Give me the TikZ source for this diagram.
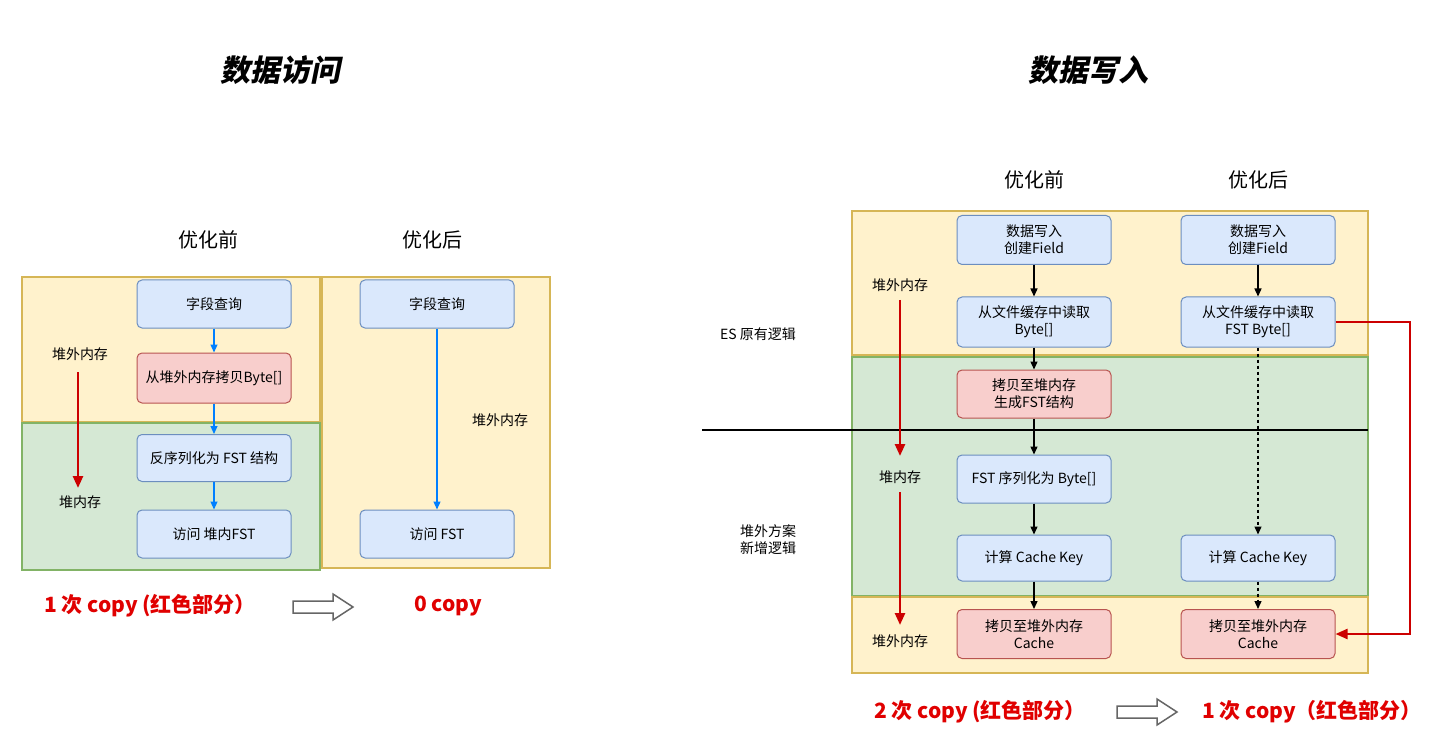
\documentclass[tikz,border=0pt]{standalone}
\usepackage{fontspec}
\setmainfont{Noto Sans CJK SC}
\newfontfamily\cjkslant[FakeSlant=0.2]{Noto Sans CJK SC}
\usetikzlibrary{arrows.meta}
\definecolor{yfill}{HTML}{FFF2CC}\definecolor{ydraw}{HTML}{D6B656}
\definecolor{gfill}{HTML}{D5E8D4}\definecolor{gdraw}{HTML}{82B366}
\definecolor{bfill}{HTML}{DAE8FC}\definecolor{bdraw}{HTML}{6C8EBF}
\definecolor{rfill}{HTML}{F8CECC}\definecolor{rdraw}{HTML}{B85450}
\definecolor{redt}{HTML}{E00000}\definecolor{reda}{HTML}{CC0000}
\definecolor{bluea}{HTML}{007FFF}
\begin{document}
\begin{tikzpicture}[x=1pt,y=-1pt,
 txt/.style={font=\fontsize{14}{17}\selectfont,align=center},
 hd/.style={font=\fontsize{20}{24}\selectfont},
 ttl/.style={font=\fontsize{30}{34}\selectfont\cjkslant\bfseries},
 cp/.style={font=\fontsize{21}{25}\selectfont\bfseries,text=redt},
 bbox/.style={draw=bdraw,fill=bfill,rounded corners=5pt,line width=1pt,minimum width=154pt,minimum height=48pt,txt},
 rbox/.style={bbox,draw=rdraw,fill=rfill},
 yreg/.style={draw=ydraw,fill=yfill,line width=1.8pt},
 greg/.style={draw=gdraw,fill=gfill,line width=1.8pt},
 barr/.style={-{Triangle[length=8pt,width=7pt]},bluea,line width=1.2pt},
 karr/.style={-{Triangle[length=8pt,width=7pt]},black,line width=1.4pt},
 rarr/.style={-{Triangle[length=12pt,width=10pt]},reda,line width=2.5pt},
 hollow/.style={draw=gray!80!black,fill=white,line width=1.5pt}]
\useasboundingbox (0,0) rectangle (1436,754);
% left
\node[ttl] (t1) at (280,70) {数据访问};
\node[hd] (h1) at (208,240) {优化前};
\node[hd] (h2) at (432,240) {优化后};
\draw[yreg] (22,277) rectangle (320,422);
\draw[greg] (22,423) rectangle (320,570);
\draw[yreg] (322,277) rectangle (550,568);
\node[bbox] (a1) at (214,304) {字段查询};
\node[rbox,minimum height=50pt] (a2) at (214,378) {从堆外内存拷贝Byte[]};
\node[bbox,minimum height=47pt] (a3) at (214,458) {反序列化为 FST 结构};
\node[bbox] (a4) at (214,534) {访问 堆内FST};
\node[bbox] (b1) at (437,304) {字段查询};
\node[bbox] (b2) at (437,534) {访问 FST};
\draw[barr] (a1) -- (a2); \draw[barr] (a2) -- (a3); \draw[barr] (a3) -- (a4);
\draw[barr] (b1) -- (b2);
\node[txt] (l1) at (80,354) {堆外内存};
\node[txt] (l2) at (80,502) {堆内存};
\node[txt] (l3) at (500,420) {堆外内存};
\coordinate (r1s) at (78,372); \coordinate (r1e) at (78,488);
\draw[rarr] (r1s) -- (r1e);
\node[cp] (c1) at (150,606) {1 次 copy (红色部分）};
\draw[hollow] (293,601) -- (333,601) -- (333,594) -- (353,607) -- (333,620) -- (333,613) -- (293,613) -- cycle;
\node[cp] (c2) at (448,606) {0 copy};
% right
\node[ttl] (t2) at (1088,70) {数据写入};
\node[hd] (h3) at (1034,180) {优化前};
\node[hd] (h4) at (1258,180) {优化后};
\draw[yreg] (852,211) rectangle (1368,355);
\draw[greg] (852,357) rectangle (1368,596);
\draw[yreg] (852,597) rectangle (1368,673);
\coordinate (hl1) at (702,430); \coordinate (hl2) at (1368,430);
\draw[black,line width=1.5pt] (hl1) -- (hl2);
\node[txt] (e1) at (758,334) {ES 原有逻辑};
\node[txt] (e2) at (768,540) {堆外方案\\新增逻辑};
\node[txt] (m1) at (900,285) {堆外内存};
\node[txt] (m2) at (900,477) {堆内存};
\node[txt] (m3) at (900,641) {堆外内存};
\coordinate (r2s) at (900,300); \coordinate (r2e) at (900,456);
\coordinate (r3s) at (900,492); \coordinate (r3e) at (900,625);
\draw[rarr] (r2s) -- (r2e); \draw[rarr] (r3s) -- (r3e);
\node[bbox,minimum height=49pt] (p1) at (1034,240) {数据写入\\创建Field};
\node[bbox,minimum height=50pt] (p2) at (1034,322) {从文件缓存中读取\\Byte[]};
\node[rbox] (p3) at (1034,394) {拷贝至堆内存\\生成FST结构};
\node[bbox] (p4) at (1034,479) {FST 序列化为 Byte[]};
\node[bbox,minimum height=46pt] (p5) at (1034,558) {计算 Cache Key};
\node[rbox,minimum height=49pt] (p6) at (1034,634) {拷贝至堆外内存\\Cache};
\foreach \a/\b in {p1/p2,p2/p3,p3/p4,p4/p5,p5/p6} \draw[karr] (\a) -- (\b);
\node[bbox,minimum height=49pt] (q1) at (1258,240) {数据写入\\创建Field};
\node[bbox,minimum height=50pt] (q2) at (1258,322) {从文件缓存中读取\\FST Byte[]};
\node[bbox,minimum height=46pt] (q5) at (1258,558) {计算 Cache Key};
\node[rbox,minimum height=49pt] (q6) at (1258,634) {拷贝至堆外内存\\Cache};
\draw[karr] (q1) -- (q2);
\draw[karr,dashed] (q2) -- (q5);
\draw[karr,dashed] (q5) -- (q6);
\draw[rarr,line width=2.2pt] (q2.east) -- (1410,322) -- (1410,634) -- (q6.east);
\node[cp] (c3) at (980,712) {2 次 copy (红色部分）};
\draw[hollow] (1117,706) -- (1157,706) -- (1157,699) -- (1177,712) -- (1157,725) -- (1157,718) -- (1117,718) -- cycle;
\node[cp] (c4) at (1312,712) {1 次 copy（红色部分）};
\end{tikzpicture}
\end{document}
